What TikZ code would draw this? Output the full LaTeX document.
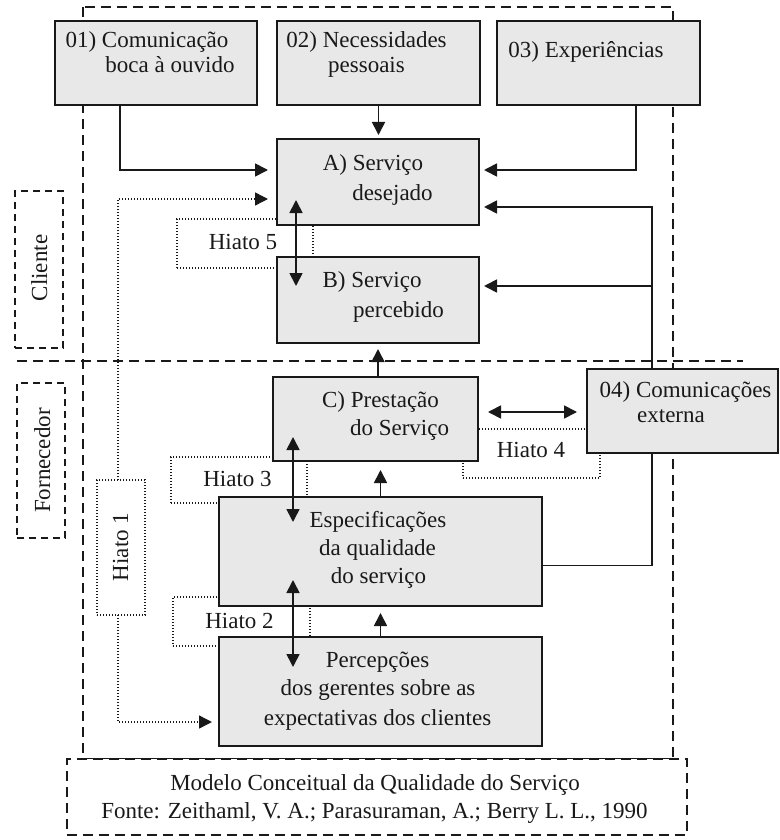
\documentclass[tikz,border=0pt]{standalone}
\usepackage{fontspec}
\setmainfont{Liberation Serif}
\usetikzlibrary{arrows.meta,calc}
\definecolor{boxfill}{RGB}{232,232,232}
\definecolor{edge}{RGB}{25,25,25}
\begin{document}
\begin{tikzpicture}[x=1pt,y=-1pt,
  >={Triangle[length=13pt,width=13pt]},
  box/.style={draw=edge,fill=boxfill,line width=1.7pt,inner sep=0pt,outer sep=0pt},
  txt/.style={anchor=base,inner sep=0pt,text=edge,font=\fontsize{23}{28.5}\selectfont},
  conn/.style={line width=1.7pt,draw=edge},
  hiatobox/.style={draw=edge,line width=1.4pt,dash pattern=on 1.4pt off 1.6pt,inner sep=0pt,outer sep=0pt},
  hiatoline/.style={draw=edge,line width=1.4pt,dash pattern=on 1.4pt off 1.6pt},
  frame/.style={draw=edge,line width=1.6pt,dash pattern=on 10pt off 6pt},
  sideframe/.style={draw=edge,line width=1.6pt,dash pattern=on 7pt off 5pt,inner sep=0pt,outer sep=0pt},
]
\useasboundingbox (0,0) rectangle (779,840);

% outer dashed frame and separator
\draw[frame] (83,7) rectangle (673,759);
\draw[frame] (17,361) -- (743,361);

% side labels
\node[sideframe,minimum width=48pt,minimum height=157pt] (cliente) at (39,269.5) {};
\node[txt,rotate=90] (tcliente) at (47,268) {Cliente};
\node[sideframe,minimum width=48pt,minimum height=155pt] (fornec) at (41,460.5) {};
\node[txt,rotate=90] (tfornec) at (50,460.5) {Fornecedor};

% caption
\node[sideframe,frame,fill=white,minimum width=620pt,minimum height=76pt] (cap) at (377,797) {};
\node[txt] (cap1) at (375,790) {Modelo Conceitual da Qualidade do Serviço};
\node[txt] (cap2) at (374.5,818) {Fonte: Zeithaml, V. A.; Parasuraman, A.; Berry L. L., 1990};

% hiato dotted boxes (behind the main boxes)
\node[hiatobox,minimum width=136pt,minimum height=49pt] (h5) at (245,243.5) {};
\node[hiatobox,minimum width=137pt,minimum height=49pt] (h4) at (531.5,453.5) {};
\node[hiatobox,minimum width=136pt,minimum height=46pt] (h3) at (239,480) {};
\node[hiatobox,minimum width=137pt,minimum height=49pt] (h2) at (241.5,621.5) {};
\node[hiatobox,minimum width=48pt,minimum height=135pt] (h1) at (121,547.5) {};

\coordinate (bend) at (652,207);

% main boxes
\node[box,minimum width=202pt,minimum height=84pt] (n01) at (156,63) {};
\node[box,minimum width=203pt,minimum height=84pt] (n02) at (378.5,63) {};
\node[box,minimum width=203pt,minimum height=84pt] (n03) at (598.5,63) {};
\node[box,minimum width=202pt,minimum height=86pt] (A) at (378,182) {};
\node[box,minimum width=202pt,minimum height=86pt] (B) at (378,300) {};
\node[box,minimum width=205pt,minimum height=84pt] (C) at (375.5,419) {};
\node[box,minimum width=323pt,minimum height=109pt] (E) at (380.5,551.5) {};
\node[box,minimum width=323pt,minimum height=109pt] (P) at (380.5,691.5) {};

\coordinate (bE) at ([yshift=14pt]B.east);

\draw[conn,->,shorten >=9pt] ([xshift=-36pt]n01.south) |- ([yshift=12pt]A.west);
\draw[conn,->,shorten >=4pt] (n02.south) -- (n02.south |- A.north);
\draw[conn,->,shorten >=5pt] ([xshift=37.5pt]n03.south) |- ([yshift=12pt]A.east);
\draw[conn,->,shorten >=5pt] ([yshift=-14pt]E.east) -| (bend) -- ([yshift=-25pt]A.east);
\draw[conn,->,shorten >=5pt] (bend |- bE) -- (bE);
\draw[conn,->,shorten >=6pt] (B.south |- C.north) -- (B.south);
\draw[conn,->,shorten >=9pt] (E.north) -- (E.north |- C.south);
\draw[conn,->,shorten >=7pt] (P.north) -- (P.north |- E.south);

% hiato 1 dotted connectors
\draw[hiatoline,->,shorten >=9pt] ([xshift=-3pt]h1.north) |- ([yshift=-17pt]A.west);
\draw[hiatoline,->,shorten >=7pt] ([xshift=-3pt]h1.south) |- ([yshift=-30.5pt]P.west);

% box 04 on top of the loop line and frame
\node[box,minimum width=191pt,minimum height=84pt] (n04) at (682.5,411) {};

% texts
\node[txt] (t01a) at (147,48) {01) Comunicação};
\node[txt] (t01b) at (170,73) {boca à ouvido};
\node[txt] (t02a) at (366.5,48) {02) Necessidades};
\node[txt] (t02b) at (366.5,73) {pessoais};
\node[txt] (t03) at (586,58) {03) Experiências};
\node[txt] (tAa) at (373,170) {A) Serviço};
\node[txt] (tAb) at (392.5,200) {desejado};
\node[txt] (tBa) at (372,287) {B) Serviço};
\node[txt] (tBb) at (398.5,317) {percebido};
\node[txt] (tCa) at (380.5,407) {C) Prestação};
\node[txt] (tCb) at (399.5,435) {do Serviço};
\node[txt] (t04a) at (685.5,397) {04) Comunicações};
\node[txt] (t04b) at (671,422) {externa};
\node[txt] (tEa) at (378,527) {Especificações};
\node[txt] (tEb) at (377.5,555) {da qualidade};
\node[txt] (tEc) at (378.5,583) {do serviço};
\node[txt] (tPa) at (377.5,667) {Percepções};
\node[txt] (tPb) at (378,695) {dos gerentes sobre as};
\node[txt] (tPc) at (377.5,725) {expectativas dos clientes};

\node[txt] (th5) at (243,249) {Hiato 5};
\node[txt] (th4) at (531,457) {Hiato 4};
\node[txt] (th3) at (237.5,486) {Hiato 3};
\node[txt] (th2) at (239.5,628) {Hiato 2};
\node[txt,rotate=90] (th1) at (128,547) {Hiato 1};

% double arrows (on top)
\draw[conn,<->] ($(A.south)+(-82,-25)$) -- ($(B.north)+(-82,29)$);
\draw[conn,<->] ($(C.south)+(-82.5,-24)$) -- ($(E.north)+(-87.5,25)$);
\draw[conn,<->] ($(E.south)+(-87.5,-26)$) -- ($(P.north)+(-87.5,30)$);
\draw[conn,<->,shorten <=10pt,shorten >=10pt] ([yshift=7pt]C.east) -- ([yshift=7pt]C.east -| n04.west);
\end{tikzpicture}
\end{document}
